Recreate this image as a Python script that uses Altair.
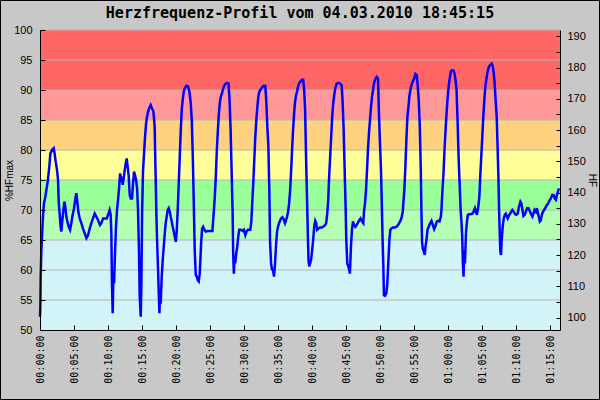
import altair as alt
import pandas as pd

TITLE = "Herzfrequenz-Profil vom 04.03.2010 18:45:15"

# elapsed time in seconds, heart rate in %HFmax (HFmax = 192)
time_s = [
    0, 3, 6, 12, 26, 35, 47, 56, 65, 76, 85, 91, 106, 121, 129, 138, 150, 159, 165, 173,
    182, 188, 197, 206, 215, 223, 232, 241, 253, 265, 276, 288, 300, 312, 320, 329, 338, 350, 365, 379,
    394, 409, 423, 438, 453, 467, 482, 497, 512, 529, 541, 556, 570, 588, 600, 614, 623, 629, 635, 641,
    647, 653, 662, 670, 679, 688, 697, 706, 711, 720, 729, 738, 747, 756, 764, 773, 782, 791, 800, 811,
    820, 829, 838, 847, 856, 864, 873, 879, 888, 894, 900, 908, 917, 926, 935, 944, 953, 964, 976, 988,
    1000, 1011, 1017, 1026, 1032, 1041, 1047, 1053, 1058, 1064, 1073, 1082, 1091, 1100, 1108, 1117, 1126, 1135, 1144, 1152,
    1161, 1170, 1179, 1188, 1197, 1205, 1214, 1223, 1232, 1241, 1250, 1258, 1267, 1276, 1291, 1305, 1317, 1329, 1338, 1347,
    1355, 1364, 1373, 1382, 1391, 1399, 1408, 1414, 1420, 1429, 1438, 1449, 1461, 1476, 1496, 1520,
    1532, 1541, 1550, 1559, 1568, 1577, 1585, 1594, 1603, 1612, 1621, 1633, 1647, 1662, 1671, 1680, 1689, 1698, 1703, 1709,
    1715, 1721, 1730, 1739, 1748, 1756, 1771, 1786, 1798, 1810, 1821, 1833, 1854, 1863, 1871, 1880, 1889, 1898, 1907, 1916,
    1925, 1933, 1945, 1957, 1972, 1986, 1995, 2004, 2013, 2022, 2028, 2037, 2045, 2054, 2063, 2072, 2081, 2090, 2098, 2107,
    2116, 2125, 2137, 2149, 2160, 2169, 2178, 2187, 2196, 2205, 2213, 2222, 2231, 2240, 2249, 2258, 2266, 2275, 2284, 2296,
    2308, 2320, 2328, 2337, 2346, 2355, 2361, 2367, 2373, 2381, 2390, 2399, 2408, 2417, 2426, 2435, 2443, 2455, 2467, 2485,
    2502, 2514, 2523, 2532, 2541, 2549, 2558, 2567, 2576, 2585, 2594, 2603, 2614, 2629, 2644, 2659, 2667, 2676, 2685, 2694,
    2700, 2709, 2718, 2726, 2732, 2741, 2750, 2759, 2768, 2779, 2791, 2803, 2815, 2826, 2838, 2850, 2856, 2865, 2874, 2883,
    2891, 2900, 2909, 2918, 2927, 2936, 2944, 2956, 2968, 2980,
    2988, 2997, 3006, 3015, 3021, 3027, 3032, 3041, 3053, 3062, 3071, 3080, 3088, 3097, 3109, 3127, 3144, 3156, 3168, 3180,
    3189, 3198, 3203, 3212, 3221, 3230, 3239, 3248, 3256, 3265, 3274, 3286, 3298, 3310, 3321, 3330, 3339, 3348, 3357, 3363,
    3368, 3374, 3383, 3392, 3398, 3407, 3416, 3427, 3439, 3451, 3463, 3475, 3486, 3498, 3510, 3522, 3534, 3539, 3548, 3557,
    3566, 3575, 3584, 3593, 3601, 3610, 3622, 3634, 3646, 3654, 3663, 3672, 3681, 3690, 3699, 3708, 3716, 3722, 3728, 3734,
    3740, 3746, 3755, 3764, 3772, 3781, 3796, 3811, 3822, 3834, 3843, 3852, 3864, 3873, 3881, 3890, 3899, 3908, 3917, 3926,
    3935, 3946, 3958, 3970, 3982, 3991, 4000, 4008, 4017, 4026, 4032, 4041, 4047, 4053, 4058, 4064, 4070, 4079, 4088, 4097,
    4106, 4114, 4123, 4132, 4141, 4153, 4164, 4176, 4188, 4200, 4211, 4223, 4235, 4244, 4253, 4261, 4273, 4282, 4294, 4306,
    4314, 4323, 4332, 4341, 4350, 4359, 4371, 4380, 4388, 4397, 4406, 4415, 4424, 4433, 4444, 4456, 4468, 4480, 4492, 4503,
    4515, 4527, 4539, 4548, 4557, 4566, 4575,
]
hf_pct = [
    52.2, 54.4, 58.9, 63.3, 68.9, 71.1, 72.2, 73.3, 74.4, 76.1, 77.8, 79.4, 80.0, 80.3, 79.4, 78.1, 76.7, 75.0, 71.4, 69.4,
    67.2, 66.4, 68.3, 70.0, 71.4, 70.6, 68.9, 68.1, 67.2, 66.7, 67.8, 69.2, 70.3, 71.9, 72.8, 71.4, 69.7, 68.6, 67.8, 66.9,
    66.1, 65.3, 65.8, 66.9, 67.8, 68.6, 69.4, 68.9, 68.3, 67.5, 67.8, 68.6, 68.6, 68.6, 69.2, 70.0, 69.2, 66.1, 57.2, 52.8,
    59.4, 57.8, 63.3, 67.2, 70.0, 71.7, 73.6, 76.1, 75.6, 75.3, 74.2, 75.3, 76.7, 77.8, 78.6, 77.2, 75.6, 72.5, 71.9, 71.9,
    74.4, 76.4, 75.8, 75.0, 73.6, 70.0, 62.8, 55.6, 52.2, 57.8, 69.4, 76.4, 79.4, 82.2, 84.4, 85.6, 86.4, 87.1, 87.5, 86.9,
    86.4, 83.9, 77.8, 69.4, 65.0, 60.0, 56.1, 52.8, 56.1, 54.4, 58.9, 61.7, 63.9, 66.1, 67.8, 68.9, 70.0, 70.3, 69.7, 68.9,
    68.1, 67.2, 66.4, 65.6, 64.7, 66.4, 70.0, 74.4, 78.9, 83.3, 86.9, 88.3, 89.7, 90.3, 90.7, 90.6, 89.7, 87.8, 85.0, 78.9,
    71.7, 63.3, 59.2, 58.9, 58.3, 58.1, 59.4, 61.7, 64.4, 66.9, 67.2, 66.7, 66.4, 66.5, 66.5, 66.5,
    69.7, 72.2, 75.6, 80.0, 83.3, 86.1, 87.8, 88.9, 89.4, 90.0, 90.6, 91.0, 91.2, 91.1, 88.3, 83.6, 76.7, 69.7, 62.8, 59.4,
    62.2, 61.1, 62.8, 63.9, 65.6, 66.7, 66.7, 66.5, 66.7, 65.8, 66.4, 66.7, 66.7, 68.1, 71.1, 74.4, 78.3, 82.2, 85.0, 87.2,
    88.9, 89.7, 90.1, 90.4, 90.7, 90.7, 88.1, 83.9, 80.8, 72.8, 64.7, 61.1, 60.1, 60.0, 58.9, 61.1, 64.2, 66.4, 67.2, 67.8,
    68.2, 68.6, 68.8, 68.4, 67.8, 68.3, 68.9, 69.7, 71.1, 73.3, 76.1, 80.0, 83.3, 86.1, 88.1, 89.2, 89.7, 90.6, 91.1, 91.4,
    91.7, 91.7, 90.3, 86.7, 78.3, 71.1, 66.1, 61.7, 60.6, 61.1, 61.7, 63.3, 65.0, 67.2, 68.2, 67.8, 66.7, 66.9, 67.1, 67.1,
    67.3, 67.5, 67.8, 69.4, 71.7, 75.6, 78.9, 82.2, 85.6, 87.8, 89.2, 90.3, 91.0, 91.2, 91.1, 90.8, 88.3, 83.9, 77.2, 70.6,
    65.0, 61.1, 60.6, 60.0, 59.4, 63.9, 66.7, 68.1, 67.5, 67.2, 67.5, 67.9, 68.3, 68.6, 68.1, 67.8, 69.7, 71.1, 73.3, 76.7,
    80.0, 82.8, 85.0, 87.2, 88.9, 90.0, 91.1, 91.8, 92.2, 91.9,
    86.1, 81.1, 76.7, 69.4, 64.4, 60.3, 55.8, 55.7, 56.1, 57.8, 61.4, 65.0, 66.7, 66.9, 67.1, 67.1, 67.2, 67.5, 67.9, 68.3,
    68.9, 69.7, 71.1, 73.3, 77.2, 81.7, 85.6, 87.2, 88.9, 90.0, 90.8, 91.4, 91.9, 92.7, 92.5, 90.6, 88.3, 83.9, 76.7, 69.2,
    64.7, 63.6, 63.1, 62.5, 63.9, 65.0, 66.7, 67.2, 67.8, 68.2, 67.5, 66.8, 67.3, 68.1, 68.2, 68.1, 68.9, 70.0, 73.3, 76.1,
    80.0, 83.3, 86.1, 88.6, 90.3, 91.7, 93.1, 93.3, 93.2, 92.8, 91.7, 90.0, 85.0, 78.9, 74.4, 70.0, 67.8, 65.6, 61.1, 58.9,
    63.3, 61.1, 66.1, 68.1, 69.2, 69.3, 69.3, 69.4, 69.7, 70.3, 69.7, 69.2, 70.6, 72.2, 75.6, 78.9, 82.2, 85.6, 88.3, 90.6,
    91.8, 93.1, 93.9, 94.2, 94.4, 94.0, 92.8, 91.1, 88.1, 85.6, 81.7, 75.6, 70.0, 66.1, 63.1, 62.5, 65.0, 67.2, 68.6, 69.2,
    69.4, 69.0, 68.6, 69.0, 69.3, 69.7, 70.0, 69.7, 69.3, 69.2, 69.4, 70.6, 71.4, 71.1, 70.0, 69.0, 69.2, 69.7, 70.3, 70.3,
    70.0, 69.6, 69.2, 68.9, 69.4, 70.0, 69.7, 70.3, 69.6, 68.9, 68.1, 68.3, 69.2, 69.7, 70.0, 70.4, 70.8, 71.1, 71.6, 71.9,
    72.5, 72.5, 71.9, 71.7, 72.5, 73.1, 73.6,
]

# heart-rate zones (%HFmax)
band_lo = [50, 65, 70, 75, 80, 85, 90]
band_hi = [65, 70, 75, 80, 85, 90, 100]
band_colors = ["#d2f4f8", "#b4ffb4", "#99ff99", "#ffff99", "#ffd280", "#ff9999", "#ff6666"]

grid_pct = [55, 60, 65, 70, 75, 80, 85, 90, 95, 100]
pct_ticks = [50, 55, 60, 65, 70, 75, 80, 85, 90, 95, 100]
hf_ticks = [100, 105, 110, 115, 120, 125, 130, 135, 140, 145, 150, 155, 160, 165, 170, 175, 180, 185, 190]
hf_labels = [100, 110, 120, 130, 140, 150, 160, 170, 180, 190]
x_ticks = [0, 300, 600, 900, 1200, 1500, 1800, 2100, 2400, 2700, 3000, 3300, 3600, 3900, 4200, 4500]

X_DOMAIN = [0, 4584]
PCT_DOMAIN = [50, 100]
HF_DOMAIN = [96, 192]

df_line = pd.DataFrame({"t": time_s, "v": hf_pct})
df_bands = pd.DataFrame({"lo": band_lo, "hi": band_hi, "col": band_colors})
df_grid = pd.DataFrame({"g": grid_pct})
df_hf = pd.DataFrame({"hf": hf_ticks})
df_xt = pd.DataFrame({"xt": x_ticks})
df_one = pd.DataFrame({"a": [0]})

x_scale = alt.Scale(domain=X_DOMAIN, nice=False, zero=False)
pct_scale = alt.Scale(domain=PCT_DOMAIN, nice=False, zero=False)
hf_scale = alt.Scale(domain=HF_DOMAIN, nice=False, zero=False)

LABEL_FONT = "Liberation Sans"
MONO = "DejaVu Sans Mono"

left_main = alt.Axis(orient="left", values=pct_ticks, ticks=False, grid=False,
                     domainColor="black", domainWidth=1, labelFont=LABEL_FONT,
                     labelFontSize=11, labelColor="black", labelPadding=8,
                     title="%HFmax", titleFont=LABEL_FONT, titleFontSize=10,
                     titleFontWeight="normal", titleColor="black", titleX=-31, titleY=150,
                     titleAngle=270, titleBaseline="middle", titleAlign="center", zindex=1)
left_ticks = alt.Axis(orient="left", values=pct_ticks, ticks=True, tickSize=5, tickColor="black",
                      tickWidth=1, domain=False, labels=False, grid=False, offset=-5,
                      title=None, zindex=1)
right_main = alt.Axis(orient="right", values=hf_labels, ticks=False, grid=False,
                      domainColor="black", domainWidth=1, labelFont=LABEL_FONT,
                      labelFontSize=11, labelColor="black", labelPadding=7,
                      title="HF", titleFont=LABEL_FONT, titleFontSize=10,
                      titleFontWeight="normal", titleColor="black", titleX=31, titleY=150,
                      titleAngle=90, titleBaseline="middle", titleAlign="center", zindex=1)
right_ticks = alt.Axis(orient="right", values=hf_ticks, ticks=True, tickSize=4, tickColor="black",
                       tickWidth=1, domain=False, labels=False, grid=False, offset=-4,
                       title=None, zindex=1)
bottom_main = alt.Axis(orient="bottom", values=x_ticks, ticks=False, grid=False,
                       domainColor="black", domainWidth=1,
                       labelExpr="utcFormat(datum.value * 1000, '%H:%M:%S')",
                       labelAngle=270, labelFont=MONO, labelFontSize=10, labelColor="black",
                       labelPadding=5, labelOverlap=False, labelFlush=False,
                       title=None, zindex=1)
bottom_ticks = alt.Axis(orient="bottom", values=x_ticks, ticks=True, tickSize=5, tickColor="black",
                        tickWidth=1, domain=False, labels=False, grid=False, offset=-5,
                        title=None, zindex=1)

bands = alt.Chart(df_bands).mark_rect().encode(
    y=alt.Y("lo:Q", scale=pct_scale, axis=left_main),
    y2="hi:Q",
    color=alt.Color("col:N", scale=None),
)
grid = alt.Chart(df_grid).mark_rule(color="#b4b4b4", strokeWidth=1).encode(
    y=alt.Y("g:Q", scale=pct_scale, axis=left_ticks),
)
line = alt.Chart(df_line).mark_line(color="#0000ff", strokeWidth=2.5).encode(
    x=alt.X("t:Q", scale=x_scale, axis=bottom_main),
    y=alt.Y("v:Q", scale=pct_scale, axis=None),
)
hf_a = alt.Chart(df_hf).mark_point(opacity=0).encode(
    y=alt.Y("hf:Q", scale=hf_scale, axis=right_main),
)
hf_b = alt.Chart(df_hf).mark_point(opacity=0).encode(
    y=alt.Y("hf:Q", scale=hf_scale, axis=right_ticks),
)
xt = alt.Chart(df_xt).mark_point(opacity=0).encode(
    x=alt.X("xt:Q", scale=x_scale, axis=bottom_ticks),
)
frame = alt.Chart(df_one).mark_rect(filled=False, stroke="black", strokeWidth=1).encode(
    x=alt.value(-39.5), x2=alt.value(559.5), y=alt.value(-29.5), y2=alt.value(369.5),
)

chart = (
    alt.layer(bands, grid, line, hf_a, hf_b, xt, frame)
    .resolve_scale(y="independent")
    .resolve_axis(y="independent", x="independent")
    .properties(
        width=520, height=300,
        autosize=alt.AutoSizeParams(type="none"),
        padding={"left": 40, "top": 30, "right": 40, "bottom": 70},
        title=alt.Title(TITLE, font=MONO, fontSize=15, fontWeight="bold", color="black",
                        anchor="middle", offset=0, dy=21),
        background="#c8c8c8",
    )
    .configure_view(strokeWidth=0)
)

chart.save("out.html", embed_options={"renderer": "svg", "actions": False})
